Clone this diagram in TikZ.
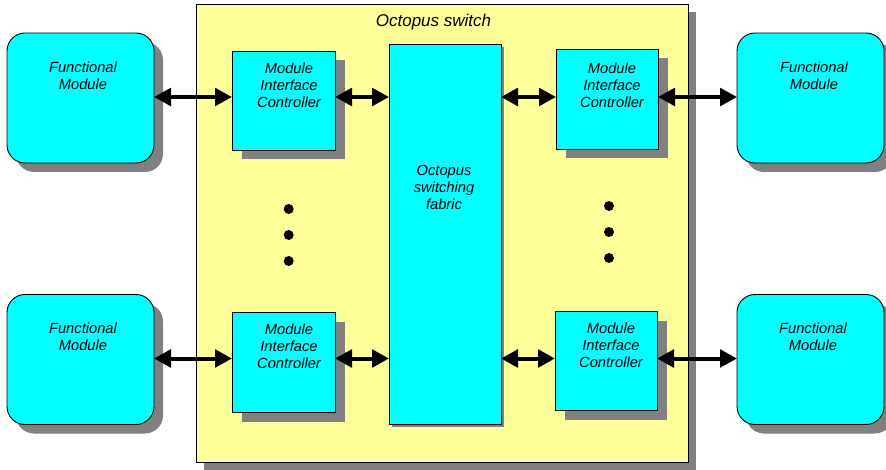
\documentclass[tikz,border=0pt]{standalone}
\usepackage{fontspec}
\setmainfont{Liberation Sans}
\usetikzlibrary{arrows.meta,shadows}
\definecolor{cyanf}{HTML}{00FFFF}
\definecolor{yel}{HTML}{FFFF99}
\definecolor{shg}{HTML}{808080}
\begin{document}
\begin{tikzpicture}[x=1pt,y=-1pt,
  basebox/.style={draw=black, line width=0.9pt, inner sep=0pt, outer sep=0pt, anchor=north west},
  fmbox/.style={basebox, fill=cyanf, rounded corners=18pt, minimum width=147pt, minimum height=130pt,
     drop shadow={shadow xshift=9pt, shadow yshift=-9pt, fill=shg, opacity=1}},
  micbox/.style={basebox, fill=cyanf, minimum width=103pt, minimum height=99pt,
     drop shadow={shadow xshift=9.5pt, shadow yshift=-9.5pt, fill=shg, opacity=1}},
  fabbox/.style={basebox, fill=cyanf, minimum width=112pt, minimum height=380pt,
     drop shadow={shadow xshift=3pt, shadow yshift=-3pt, fill=shg, opacity=1}},
  swbox/.style={basebox, fill=yel, minimum width=492pt, minimum height=458pt,
     drop shadow={shadow xshift=8pt, shadow yshift=-8pt, fill=shg, opacity=1}},
  lbl/.style={anchor=north, inner sep=0pt, align=center, font=\fontsize{14.7}{17}\selectfont\itshape},
  ttl/.style={anchor=north, inner sep=0pt, font=\fontsize{17}{20}\selectfont\itshape},
  biarrow/.style={{Triangle[length=17pt,width=17.5pt]}-{Triangle[length=17pt,width=17.5pt]}, line width=4pt},
  dot/.style={circle, fill=black, inner sep=0pt, minimum size=10pt}
]
\useasboundingbox (0,0) rectangle (886,470);

% Octopus switch container
\node[swbox] (sw) at (196,4) {};
\node[ttl] (swt) at (433.5,13.5) {Octopus switch};

% Functional modules
\node[fmbox] (fm1) at (7,33) {};
\node[fmbox] (fm2) at (7,294.5) {};
\node[fmbox] (fm3) at (737,33) {};
\node[fmbox] (fm4) at (737,294.5) {};
\node[lbl] (fm1t) at (83,62) {Functional\\Module};
\node[lbl] (fm2t) at (83,323) {Functional\\Module};
\node[lbl] (fm3t) at (814,62) {Functional\\Module};
\node[lbl] (fm4t) at (813,323) {Functional\\Module};

% Module interface controllers
\node[micbox] (mic1) at (232,51) {};
\node[micbox, minimum height=100pt] (mic2) at (232,312) {};
\node[micbox, minimum width=102pt, minimum height=100pt] (mic3) at (556,49) {};
\node[micbox, minimum width=102pt] (mic4) at (555,311) {};
\node[lbl] (mic1t) at (289,62.5) {Module\\Interface\\Controller};
\node[lbl] (mic2t) at (289,323.5) {Module\\Interface\\Controller};
\node[lbl] (mic3t) at (612,62.5) {Module\\Interface\\Controller};
\node[lbl] (mic4t) at (611,322.5) {Module\\Interface\\Controller};

% Switching fabric
\node[fabbox] (fab) at (389,44) {};
\node[lbl] (fabt) at (444,165.5) {Octopus\\switching\\fabric};

% Dots
\node[dot] (d1) at (288.7,209) {};
\node[dot] (d2) at (288.7,235) {};
\node[dot] (d3) at (288.7,261) {};
\node[dot] (d4) at (609,206) {};
\node[dot] (d5) at (609,232) {};
\node[dot] (d6) at (609,258) {};

% Row coordinates
\coordinate (r1) at (0,97);
\coordinate (r2) at (0,358.5);

% Connectors
\draw[biarrow] (fm1.east |- r1) -- (mic1.west |- r1);
\draw[biarrow] (mic1.east |- r1) -- (fab.west |- r1);
\draw[biarrow] (fab.east |- r1) -- (mic3.west |- r1);
\draw[biarrow] (mic3.east |- r1) -- (fm3.west |- r1);
\draw[biarrow] (fm2.east |- r2) -- (mic2.west |- r2);
\draw[biarrow] (mic2.east |- r2) -- (fab.west |- r2);
\draw[biarrow] (fab.east |- r2) -- (mic4.west |- r2);
\draw[biarrow] (mic4.east |- r2) -- (fm4.west |- r2);
\end{tikzpicture}
\end{document}
